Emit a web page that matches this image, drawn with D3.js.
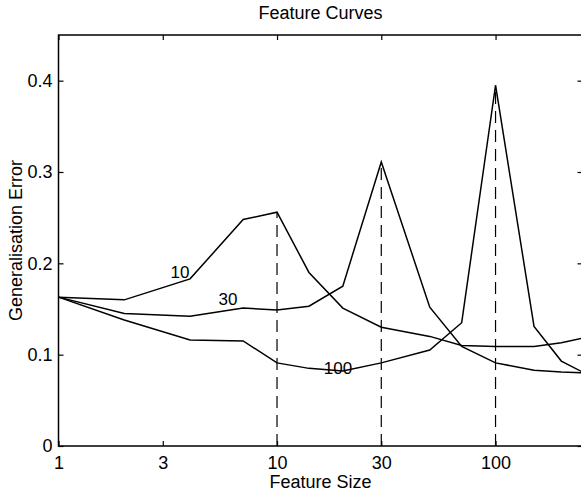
<!DOCTYPE html>
<html>
<head>
<meta charset="utf-8">
<script src="https://cdn.jsdelivr.net/npm/d3@7"></script>
<style>
  html, body { margin: 0; padding: 0; background: #fff; }
  svg { display: block; }
  text { font-family: "Liberation Sans", Arial, Helvetica, sans-serif; fill: #000; }
</style>
</head>
<body>
<svg id="chart" width="581" height="491"></svg>
<script>
// Data
const featureSizes = [1, 2, 4, 7, 10, 14, 20, 30, 50, 70, 100, 150, 200, 250];
const curve10  = [0.163, 0.160, 0.183, 0.248, 0.256, 0.190, 0.151, 0.130, 0.120, 0.110, 0.109, 0.109, 0.113, 0.118];
const curve30  = [0.163, 0.145, 0.142, 0.151, 0.149, 0.153, 0.175, 0.311, 0.152, 0.109, 0.091, 0.083, 0.081, 0.080];
const curve100 = [0.163, 0.138, 0.116, 0.115, 0.091, 0.085, 0.082, 0.091, 0.105, 0.135, 0.395, 0.131, 0.093, 0.081];
const seriesNames = ["10", "30", "100"];
const peakSizes = [10, 30, 100];
const xTicks = [1, 3, 10, 30, 100];
const yTicks = [0, 0.1, 0.2, 0.3, 0.4];

const svg = d3.select("#chart");
const mLeft = 58.5, mRight = 582.5, mTop = 35, mBottom = 446;

const x = d3.scaleLog().domain([1, 250]).range([mLeft, mRight]);
const y = d3.scaleLinear().domain([0, 0.45]).range([mBottom, mTop]);

const series = [curve10, curve30, curve100];
const fs = 18;

// Dashed verticals at the peaks
series.forEach((vals, i) => {
  const idx = featureSizes.indexOf(peakSizes[i]);
  svg.append("line")
    .attr("x1", x(peakSizes[i])).attr("x2", x(peakSizes[i]))
    .attr("y1", y(0)).attr("y2", y(vals[idx]))
    .attr("stroke", "#000").attr("stroke-width", 1.2)
    .attr("stroke-dasharray", "12,7");
});

// Curves
const line = d3.line().x((d, i) => x(featureSizes[i])).y(d => y(d));
svg.append("clipPath").attr("id", "clip").append("rect")
  .attr("x", mLeft).attr("y", mTop).attr("width", mRight - mLeft).attr("height", mBottom - mTop);
series.forEach(vals => {
  svg.append("path").datum(vals)
    .attr("d", line)
    .attr("fill", "none").attr("stroke", "#000").attr("stroke-width", 1.5)
    .attr("clip-path", "url(#clip)");
});

// Axes box
svg.append("rect").attr("x", mLeft).attr("y", mTop)
  .attr("width", mRight - mLeft).attr("height", mBottom - mTop)
  .attr("fill", "none").attr("stroke", "#000").attr("stroke-width", 1.5);

const tickLen = 5;
const xAxisB = d3.axisBottom(x).tickValues(xTicks).tickFormat(d3.format("d")).tickSize(-tickLen).tickPadding(10);
const gxb = svg.append("g").attr("transform", `translate(0,${mBottom})`).call(xAxisB);
const xAxisT = d3.axisTop(x).tickValues(xTicks).tickFormat("").tickSize(-tickLen);
const gxt = svg.append("g").attr("transform", `translate(0,${mTop})`).call(xAxisT);
const yAxisL = d3.axisLeft(y).tickValues(yTicks).tickFormat(d => d === 0 ? "0" : d3.format(".1f")(d)).tickSize(-tickLen).tickPadding(6);
const gyl = svg.append("g").attr("transform", `translate(${mLeft},0)`).call(yAxisL);
const yAxisR = d3.axisRight(y).tickValues(yTicks).tickFormat("").tickSize(-tickLen);
const gyr = svg.append("g").attr("transform", `translate(${mRight},0)`).call(yAxisR);

[gxb, gxt, gyl, gyr].forEach(g => {
  g.select(".domain").remove();
  g.selectAll(".tick line").attr("stroke", "#000").attr("stroke-width", 1.2);
  g.selectAll(".tick text").attr("font-size", fs).attr("font-family", "Liberation Sans, Arial, sans-serif").attr("fill", "#000");
});

// Title and axis labels
svg.append("text").attr("x", (mLeft + mRight) / 2).attr("y", 19)
  .attr("text-anchor", "middle").attr("font-size", fs).text("Feature Curves");
svg.append("text").attr("x", (mLeft + mRight) / 2).attr("y", 488)
  .attr("text-anchor", "middle").attr("font-size", fs).text("Feature Size");
svg.append("text")
  .attr("transform", `translate(22,${(mTop + mBottom) / 2}) rotate(-90)`)
  .attr("text-anchor", "middle").attr("font-size", fs).text("Generalisation Error");

// Curve labels
const labelPos = [[3.6, 0.184], [5.97, 0.1545], [19.0, 0.079]];
seriesNames.forEach((n, i) => {
  svg.append("text").attr("x", x(labelPos[i][0])).attr("y", y(labelPos[i][1]))
    .attr("text-anchor", "middle").attr("font-size", 17).text(n);
});
</script>
</body>
</html>
